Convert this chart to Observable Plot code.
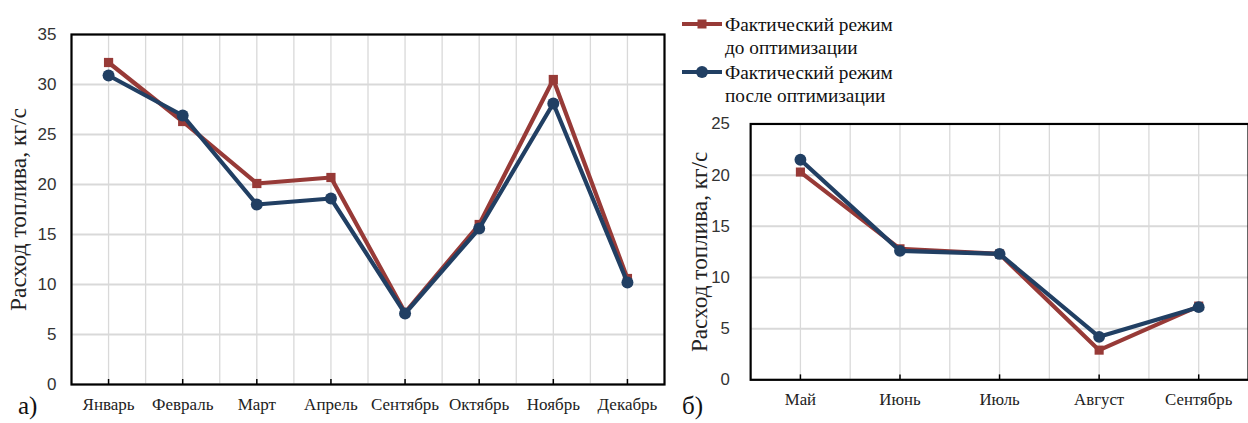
<!DOCTYPE html>
<html>
<head>
<meta charset="utf-8">
<script src="https://cdn.jsdelivr.net/npm/d3@7"></script>
<script src="https://cdn.jsdelivr.net/npm/@observablehq/plot@0.6"></script>
<style>
  html, body { margin: 0; padding: 0; background: #fff; }
  #wrap { position: relative; width: 1248px; height: 423px; overflow: hidden; background: #fff; }
  #wrap > .pane { position: absolute; top: 0; }
  .lbl { position: absolute; font-family: 'Liberation Serif'; font-size: 25px; color: #111; }
  #legend { position: absolute; left: 676px; top: 8px; }
</style>
</head>
<body>
<div id="wrap">
  <div id="paneA" class="pane" style="left:0"></div>
  <div id="paneB" class="pane" style="left:680px"></div>
  <div id="legend"></div>
  <div class="lbl" style="left:18px; top:392px; font-family:'Liberation Serif'">а)</div>
  <div class="lbl" style="left:682px; top:392px; font-family:'Liberation Serif'">б)</div>
</div>
<script>
// ---- data ----
const seriesNames = ["Фактический режим\nдо оптимизации", "Фактический режим\nпосле оптимизации"];
const seriesColors = ["#973a37", "#213f63"];
const yTitle = "Расход топлива, кг/с";

const monthsA = ["Январь", "Февраль", "Март", "Апрель", "Сентябрь", "Октябрь", "Ноябрь", "Декабрь"];
const beforeA = [32.2, 26.3, 20.1, 20.7, 7.2, 16.0, 30.5, 10.6];
const afterA  = [30.9, 26.9, 18.0, 18.6, 7.1, 15.6, 28.1, 10.2];
const yTicksA = [0, 5, 10, 15, 20, 25, 30, 35];

const monthsB = ["Май", "Июнь", "Июль", "Август", "Сентябрь"];
const beforeB = [20.3, 12.8, 12.3, 2.9, 7.2];
const afterB  = [21.5, 12.6, 12.3, 4.2, 7.1];
const yTicksB = [0, 5, 10, 15, 20, 25];

const SERIF = "Liberation Serif";
const SANS = "Liberation Sans";

function setFont(sel, fam) {
  sel.attr("font-family", fam).style("font-family", `'${fam}'`);
}

function makeChart({months, before, after, yTicks, width, marginTop, marginRight, titleDx, yPad}) {
  const n = months.length;
  const idx = d3.range(n);
  const rows = idx.flatMap(i => [
    {i, s: 0, v: before[i]},
    {i, s: 1, v: after[i]}
  ]);
  const r0 = rows.filter(d => d.s === 0);
  const r1 = rows.filter(d => d.s === 1);
  const svg = Plot.plot({
    width,
    height: 423,
    marginLeft: 71,
    marginRight,
    marginTop,
    marginBottom: 39,
    style: {background: "transparent", overflow: "visible"},
    x: {domain: [-0.5, n - 0.5], axis: null},
    y: {domain: [0, yTicks[yTicks.length - 1]], axis: null},
    marks: [
      Plot.gridX(d3.range(-0.5, n, 0.5), {stroke: "#d9d9d9", strokeOpacity: 1, strokeWidth: 1.3}),
      Plot.gridY(yTicks, {stroke: "#d9d9d9", strokeOpacity: 1, strokeWidth: 2}),
      Plot.axisY(yTicks, {
        anchor: "left", tickSize: 0, tickPadding: yPad, label: null,
        fontSize: 17, fill: "#333", ariaLabel: "ylab", fontFamily: SANS
      }),
      Plot.axisX(idx, {
        anchor: "bottom", tickSize: 0, tickPadding: 13, label: null,
        tickFormat: i => months[i],
        fontSize: 17, fill: "#222", ariaLabel: "xlab", fontFamily: SERIF
      }),
      Plot.ruleX(idx, {x: d => d, y1: 0, y2: 0, insetTop: -5, stroke: "#000", strokeWidth: 1.5}),
      Plot.frame({stroke: "#000", strokeWidth: 2.2}),
      Plot.text([yTitle], {
        frameAnchor: "left", textAnchor: "middle", rotate: -90, dx: titleDx,
        fontSize: 23.5, fill: "#222", ariaLabel: "ytitle", fontFamily: SERIF
      }),
      Plot.line(r0, {x: "i", y: "v", stroke: seriesColors[0], strokeWidth: 4.2}),
      Plot.dot(r0, {x: "i", y: "v", symbol: "square", r: 5.2, fill: seriesColors[0], stroke: "none"}),
      Plot.line(r1, {x: "i", y: "v", stroke: seriesColors[1], strokeWidth: 4.2}),
      Plot.dot(r1, {x: "i", y: "v", symbol: "circle", r: 6, fill: seriesColors[1], stroke: "none"})
    ]
  });
  const s = d3.select(svg);
  setFont(s.selectAll('[aria-label="ylab"] text'), SANS);
  setFont(s.selectAll('[aria-label="xlab"] text'), SERIF);
  setFont(s.selectAll('[aria-label="ytitle"] text'), SERIF);
  return svg;
}

document.getElementById("paneA").append(makeChart({
  months: monthsA, before: beforeA, after: afterA, yTicks: yTicksA,
  width: 680, marginTop: 34, marginRight: 16, titleDx: -53, yPad: 15
}));
document.getElementById("paneB").append(makeChart({
  months: monthsB, before: beforeB, after: afterB, yTicks: yTicksB,
  width: 575, marginTop: 125, marginRight: 0, titleDx: -52, yPad: 21
}));

// ---- legend ----
const lg = d3.select("#legend").append("svg").attr("width", 260).attr("height", 105)
  .style("overflow", "visible");
seriesNames.forEach((name, k) => {
  const g = lg.append("g").attr("transform", `translate(0, ${16 + k * 48})`);
  g.append("line").attr("x1", 6).attr("x2", 46).attr("y1", 0).attr("y2", 0)
    .attr("stroke", seriesColors[k]).attr("stroke-width", 4.2);
  if (k === 0) {
    g.append("rect").attr("x", 21.5).attr("y", -4.5).attr("width", 9).attr("height", 9).attr("fill", seriesColors[k]);
  } else {
    g.append("circle").attr("cx", 26).attr("cy", 0).attr("r", 6).attr("fill", seriesColors[k]);
  }
  name.split("\n").forEach((line, j) => {
    const t = g.append("text").attr("x", 49).attr("y", 6.5 + j * 23)
      .attr("font-size", 19.3).attr("fill", "#111").text(line);
    setFont(t, SERIF);
  });
});
</script>
</body>
</html>
